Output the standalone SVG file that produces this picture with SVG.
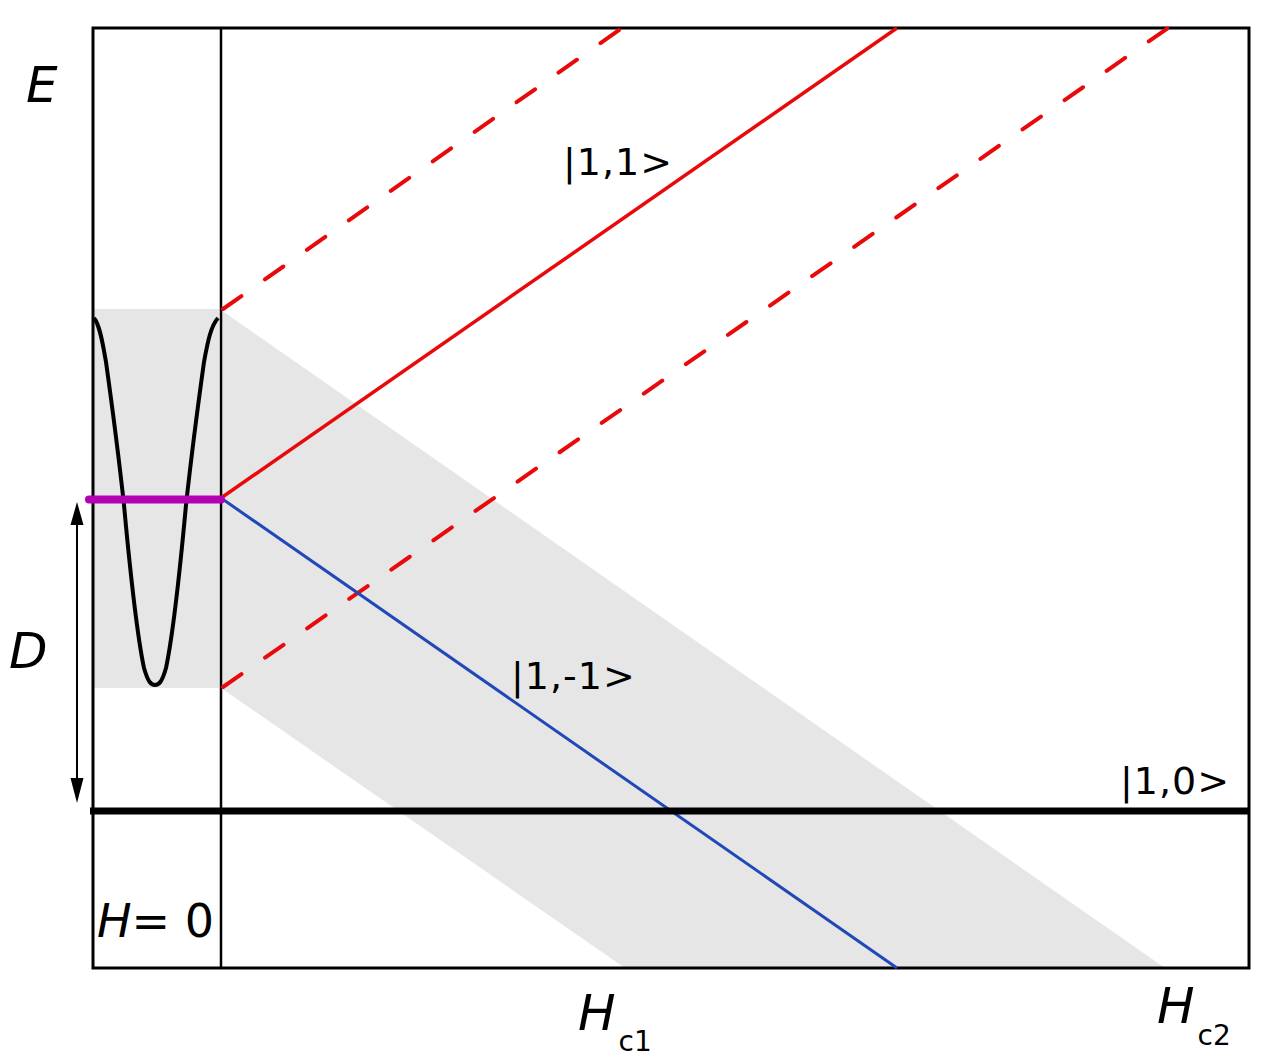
<svg xmlns="http://www.w3.org/2000/svg" width="1272" height="1062" viewBox="0 0 1272 1062">
<style>
.t{font-family:"DejaVu Sans",Verdana,sans-serif;fill:#000}
.i{font-style:italic}
.k{letter-spacing:1px}
.red{stroke:#e8090b;stroke-width:3.5;fill:none}
.dash{stroke-width:4;stroke-linecap:round;stroke-dasharray:22.5 28.8}
</style>
<rect width="1272" height="1062" fill="#fff"/>
<g id="band">
<rect x="93" y="309" width="126" height="379" fill="#e6e6e6"/>
<polygon points="221,310 1165,968 625,968 221,688" fill="#e6e6e6"/>
</g>
<g id="frame">
<rect x="93" y="28" width="1156" height="940" fill="none" stroke="#000" stroke-width="3"/>
<line x1="221" y1="28" x2="221" y2="968" stroke="#000" stroke-width="2.5"/>
</g>
<g id="well">
<path d="M94,318 C100,325 103,345 106,362 C112,405 118,450 124,505 C130,570 136,630 144,668 C148,682 151,685 155,685 C159,685 162,682 166,668 C174,630 180,570 186,505 C192,450 198,405 204,362 C208,340 211,326 218,318" fill="none" stroke="#000" stroke-width="4" stroke-linejoin="round"/>
</g>
<g id="connectors">
<line class="red dash" x1="223" y1="309" x2="622" y2="28"/>
<line class="red" x1="221" y1="498" x2="897" y2="28"/>
<line class="red dash" x1="223" y1="687" x2="1168" y2="28"/>
<line x1="221" y1="498" x2="897" y2="968" stroke="#2147b8" stroke-width="3"/>
<line x1="90" y1="811" x2="1249" y2="811" stroke="#000" stroke-width="7"/>
<line x1="89" y1="499.5" x2="221" y2="499.5" stroke="#b300b3" stroke-width="8" stroke-linecap="round"/>
<line x1="77" y1="520" x2="77" y2="785" stroke="#000" stroke-width="2"/>
<polygon points="77,502 83.5,525 70.5,525" fill="#000"/>
<polygon points="77,803 83.5,778 70.5,778" fill="#000"/>
</g>
<g id="labels">
<text class="t i" x="26" y="102" font-size="50">E</text>
<text class="t i" x="9" y="668" font-size="50">D</text>
<text class="t" x="97" y="937" font-size="46"><tspan class="i">H</tspan>= 0</text>
<text class="t k" x="563" y="175" font-size="38">|1,1&gt;</text>
<text class="t k" x="511" y="689" font-size="38">|1,-1&gt;</text>
<text class="t k" x="1120" y="794" font-size="38">|1,0&gt;</text>
<text class="t" x="578" y="1030" font-size="50"><tspan class="i">H</tspan><tspan font-size="28" dx="3" dy="21">c1</tspan></text>
<text class="t" x="1157" y="1023" font-size="50"><tspan class="i">H</tspan><tspan font-size="28" dx="3" dy="22">c2</tspan></text>
</g>
</svg>
